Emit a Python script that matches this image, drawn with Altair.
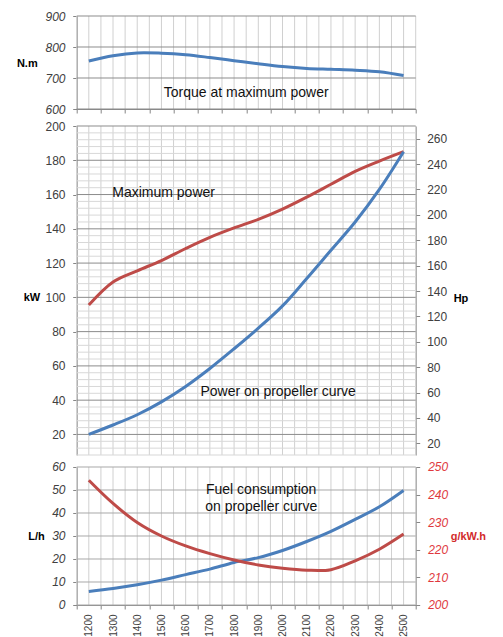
import altair as alt
import pandas as pd

# ---------------- data ----------------
rpm = [1200, 1300, 1400, 1500, 1600, 1700, 1800, 1900, 2000, 2100, 2200, 2300, 2400, 2500]
torque_nm = [755, 772, 781, 780, 775, 766, 756, 746, 737, 731, 728, 725, 720, 708]
max_power_kw = [95.5, 109, 115.5, 121.5, 128.5, 135, 140.5, 145.5, 151.5, 158.5, 166, 173.5, 179.5, 185]
prop_power_kw = [20, 25.5, 31.5, 39, 48, 58.5, 70, 82, 95, 111, 127.5, 144, 163, 185]
fuel_lh = [5.9, 7.2, 8.8, 10.8, 13.2, 15.6, 18.5, 20.6, 23.7, 27.6, 32, 37.2, 42.7, 49.8]
sfc_gkwh = [245.2, 236.8, 229.9, 225, 221.4, 218.6, 216.3, 214.5, 213.3, 212.6, 212.8, 216, 220.2, 225.7]

torque_ticks = [600, 700, 800, 900]
kw_major = list(range(20, 201, 20))
kw_minor = [v for v in range(8, 201, 4) if v % 20 != 0]
hp_ticks = list(range(20, 261, 20))
lh_ticks = list(range(0, 61, 10))
sfc_ticks = list(range(200, 251, 10))
x_grid = list(range(1150, 2551, 50))
x_edges = list(range(1150, 2551, 100))

KW_TO_HP = 1.35

# ---------------- style ----------------
BLUE = "#4a7ebb"
RED = "#be4b48"
RED_TXT = "#e0393d"
MAJOR = "#8c8c8c"
MINOR = "#d8d8d8"
VGRID = "#d0d0d0"
BOTGRID = "#a8a8a8"
AXIS = "#868686"
LBL = "#404040"
FONT = "Liberation Sans"
INTERP = "catmull-rom"

W = 339
H_TOP = 93
H_MID = 329
H_BOT = 138
X_DOM = [1150, 2550]

xs = alt.Scale(domain=X_DOM, nice=False, zero=False)
torque_scale = alt.Scale(domain=[600, 900], nice=False, zero=False)
kw_scale = alt.Scale(domain=[8, 200], nice=False, zero=False)
hp_scale = alt.Scale(domain=[8 * KW_TO_HP, 200 * KW_TO_HP], nice=False, zero=False)
lh_scale = alt.Scale(domain=[0, 60], nice=False, zero=False)
sfc_scale = alt.Scale(domain=[200, 250], nice=False, zero=False)

df_top = pd.DataFrame({"rpm": rpm, "torque": torque_nm})
df_mid = pd.DataFrame({
    "rpm": rpm * 2,
    "kw": max_power_kw + prop_power_kw,
    "series": ["max"] * len(rpm) + ["prop"] * len(rpm),
})
df_bot = pd.DataFrame({"rpm": rpm, "lh": fuel_lh, "sfc": sfc_gkwh})
one = pd.DataFrame({"a": [0]})


def x_axis(labels, ticks=True):
    if not ticks:
        return None
    kw = dict(values=x_edges, title=None, grid=False, domainColor=AXIS, tickColor=AXIS,
              tickSize=4, labelOverlap=False)
    if labels:
        kw.update(labels=True, labelAngle=270, labelFontSize=10, labelColor=LBL, labelFont=FONT,
                  labelPadding=5, labelOffset=12.1, labelFlush=False,
                  labelExpr="datum.value < 2500 ? format(datum.value + 50, 'd') : ''")
    else:
        kw.update(labels=False)
    return alt.Axis(**kw)


def y_axis(values, orient, title, tx, ty, italic=False, lcolor=LBL, tcolor="#000000", pad=7.7):
    kw = dict(values=values, format="d", orient=orient, grid=False, domainColor=AXIS,
              tickColor=AXIS, tickSize=4, labelPadding=pad, labelFont=FONT, labelFontSize=12,
              labelColor=lcolor, labelOverlap=False, title=title, titleAngle=0,
              titleAlign="left", titleBaseline="middle", titleX=tx, titleY=ty, titleFont=FONT,
              titleFontSize=11, titleFontWeight="bold", titleColor=tcolor)
    if italic:
        kw["labelFontStyle"] = "italic"
    return alt.Axis(**kw)


def vgrid(xax):
    return alt.Chart(pd.DataFrame({"g": x_grid})).mark_rule(color=VGRID, strokeWidth=1).encode(
        x=alt.X("g:Q", scale=xs, axis=xax))


def hgrid(vals, scale, color, yax, xax):
    return alt.Chart(pd.DataFrame({"g": vals})).mark_rule(color=color, strokeWidth=1).encode(
        x=alt.X(datum=X_DOM[0], scale=xs, axis=xax), x2=alt.X2(datum=X_DOM[1]),
        y=alt.Y("g:Q", scale=scale, axis=yax))


def text(label, x, y, yscale, yax, xax):
    return alt.Chart(one).mark_text(text=label, font=FONT, fontSize=14, color="#111111",
                                    lineHeight=16.6).encode(
        x=alt.X(datum=x, scale=xs, axis=xax), y=alt.Y(datum=y, scale=yscale, axis=yax))


# ---------------- top panel ----------------
TX = x_axis(False)
TY = y_axis(torque_ticks, "left", "N.m", -60.3, 47.3, italic=True)
top_line = alt.Chart(df_top).mark_line(color=BLUE, strokeWidth=3, interpolate=INTERP).encode(
    x=alt.X("rpm:Q", scale=xs, axis=TX),
    y=alt.Y("torque:Q", scale=torque_scale, axis=TY),
)
top = alt.layer(
    alt.Chart(pd.DataFrame({"g": x_grid})).mark_rule(color=VGRID, strokeWidth=1).encode(
        x=alt.X("g:Q", scale=xs, axis=TX),
        y=alt.Y(datum=600, scale=torque_scale, axis=TY), y2=alt.Y2(datum=900)),
    hgrid(torque_ticks, torque_scale, MAJOR, TY, TX),
    top_line,
    text("Torque at maximum power", 1850, 653, torque_scale, TY, TX),
).properties(width=W, height=H_TOP)

# ---------------- middle panel ----------------
MY = y_axis(kw_major, "left", "kW", -53.5, 171.5)
mid_lines = alt.Chart(df_mid).mark_line(strokeWidth=3, interpolate=INTERP).encode(
    x=alt.X("rpm:Q", scale=xs, axis=None),
    y=alt.Y("kw:Q", scale=kw_scale, axis=MY),
    color=alt.Color("series:N", scale=alt.Scale(domain=["max", "prop"], range=[RED, BLUE]),
                    legend=None),
)
mid_hp = alt.Chart(df_mid).mark_line(opacity=0).transform_calculate(
    hp=f"datum.kw * {KW_TO_HP}"
).encode(
    x=alt.X("rpm:Q", scale=xs, axis=None),
    y=alt.Y("hp:Q", scale=hp_scale,
            axis=y_axis(hp_ticks, "right", "Hp", 37.5, 172.6, pad=7)),
    detail="series:N",
)
mid = alt.layer(
    alt.Chart(pd.DataFrame({"g": x_grid})).mark_rule(color=VGRID, strokeWidth=1).encode(
        x=alt.X("g:Q", scale=xs, axis=None)),
    hgrid(kw_minor, kw_scale, MINOR, None, None),
    hgrid(kw_major, kw_scale, MAJOR, None, None),
    mid_lines,
    text("Maximum power", 1509, 161, kw_scale, None, None),
    text("Power on propeller curve", 1982, 44.5, kw_scale, None, None),
    mid_hp,
).resolve_scale(y="independent").properties(width=W, height=H_MID)

# ---------------- bottom panel ----------------
BX = x_axis(True)
bot_fuel = alt.Chart(df_bot).mark_line(color=BLUE, strokeWidth=3, interpolate=INTERP).encode(
    x=alt.X("rpm:Q", scale=xs, axis=BX),
    y=alt.Y("lh:Q", scale=lh_scale, axis=y_axis(lh_ticks, "left", "L/h", -49, 69.5, italic=True)),
)
bot_sfc = alt.Chart(df_bot).mark_line(color=RED, strokeWidth=3, interpolate=INTERP).encode(
    x=alt.X("rpm:Q", scale=xs, axis=BX),
    y=alt.Y("sfc:Q", scale=sfc_scale,
            axis=y_axis(sfc_ticks, "right", "g/kW.h", 34.5, 70, italic=True,
                        lcolor=RED_TXT, tcolor="#d22b2b", pad=8)),
)
bot = alt.layer(
    vgrid(BX),
    hgrid(lh_ticks, lh_scale, BOTGRID, None, BX),
    bot_fuel,
    text(["Fuel consumption", "on propeller curve"], 1912, 50, lh_scale, None, BX),
    bot_sfc,
).resolve_scale(y="independent").properties(width=W, height=H_BOT)

chart = alt.vconcat(top, mid, bot, spacing=5).resolve_scale(
    x="independent", y="independent"
).properties(
    padding={"left": 7.7, "top": 2, "right": 5, "bottom": 0},
    background="white",
).configure_view(stroke=None)

chart.save("out.html", embed_options={"renderer": "svg", "actions": False})
